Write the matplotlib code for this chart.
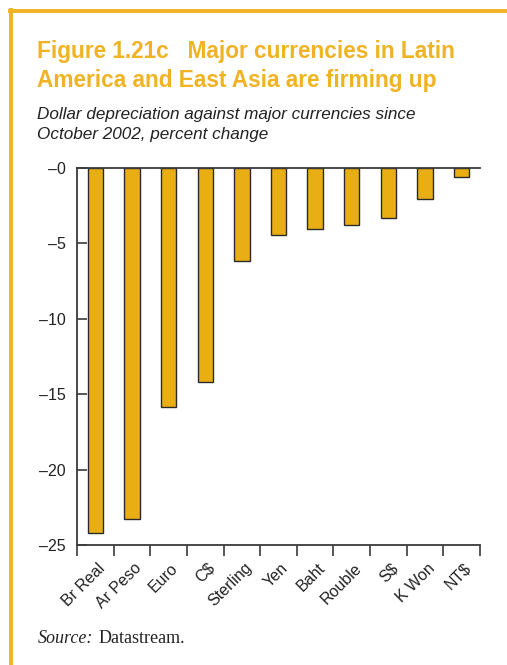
import matplotlib.pyplot as plt
import matplotlib.transforms as mtransforms
from matplotlib.lines import Line2D
import numpy as np

# data
currencies = ['Br Real', 'Ar Peso', 'Euro', 'C$', 'Sterling', 'Yen', 'Baht',
              'Rouble', 'S$', 'K Won', 'NT$']
pct_change = [-24.2, -23.3, -15.85, -14.2, -6.2, -4.45, -4.05, -3.8, -3.33, -2.03, -0.58]
y_ticks = [0, -5, -10, -15, -20, -25]
y_labels = ['\u20130', '\u20135', '\u201310', '\u201315', '\u201320', '\u201325']

gold = '#E9AE14'
frame_gold = '#F0B323'
dark = '#3a3a3a'

fig = plt.figure(figsize=(5.07, 6.65), dpi=100)
plt.rcParams['font.family'] = ['Liberation Sans', 'DejaVu Sans']

# yellow frame (top and left)
fig.add_artist(Line2D([9.5 / 507, 1.0], [1 - 11 / 665, 1 - 11 / 665],
                      transform=fig.transFigure, color=frame_gold, lw=2.8))
fig.add_artist(Line2D([11 / 507, 11 / 507], [1 - 9.5 / 665, 0.0],
                      transform=fig.transFigure, color=frame_gold, lw=2.8))

# multi-line baseline alignment puts the last line on y
fig.text(37 / 507, 1 - 87 / 665,
         'Figure 1.21c   Major currencies in Latin\nAmerica and East Asia are firming up',
         fontsize=16.3, fontweight='bold', color=frame_gold, va='baseline',
         linespacing=1.33)
fig.text(37 / 507, 1 - 139 / 665,
         'Dollar depreciation against major currencies since\nOctober 2002, percent change',
         fontsize=12.3, style='italic', color='#222222', va='baseline', linespacing=1.45)

ax = fig.add_axes([77 / 507, 1 - 545 / 665, (480 - 77) / 507, (545 - 168) / 665])
x = np.arange(len(currencies))
ax.bar(x, pct_change, width=0.42, color=gold, edgecolor='#2a2a2a', linewidth=1.0, zorder=2)

ax.set_xlim(-0.5, len(currencies) - 0.5)
ax.set_ylim(-25, 0)
ax.set_yticks(y_ticks)
ax.set_yticklabels(y_labels, fontsize=11.5, color='#222222')
ax.tick_params(axis='y', direction='in', length=7, width=1.2, color=dark, pad=8)

ax.set_xticks(np.arange(len(currencies) + 1) - 0.5)
ax.set_xticklabels([])
ax.tick_params(axis='x', direction='out', length=8, width=1.2, color=dark)
ax.set_xticks(x, minor=True)
ax.set_xticklabels(currencies, minor=True, rotation=45, ha='right',
                   rotation_mode='anchor', fontsize=11.5, color='#222222')
ax.tick_params(axis='x', which='minor', length=0, pad=11)
shift = mtransforms.ScaledTranslation(2 / 100, 0, fig.dpi_scale_trans)
for lab in ax.get_xticklabels(minor=True):
    lab.set_transform(lab.get_transform() + shift)

ax.spines['right'].set_visible(False)
for s in ['left', 'bottom', 'top']:
    ax.spines[s].set_color(dark)
    ax.spines[s].set_linewidth(1.3)

src = fig.text(38 / 507, 1 - 643 / 665, 'Source:', fontsize=13, style='italic',
               family='Liberation Serif', color='#222222', va='baseline')
fig.canvas.draw()
bb = src.get_window_extent()
fig.text((bb.x1 + 5) / fig.bbox.width, 1 - 643 / 665, 'Datastream.', fontsize=13,
         family='Liberation Serif', color='#222222', va='baseline')

fig.savefig('out.png', dpi=100)
